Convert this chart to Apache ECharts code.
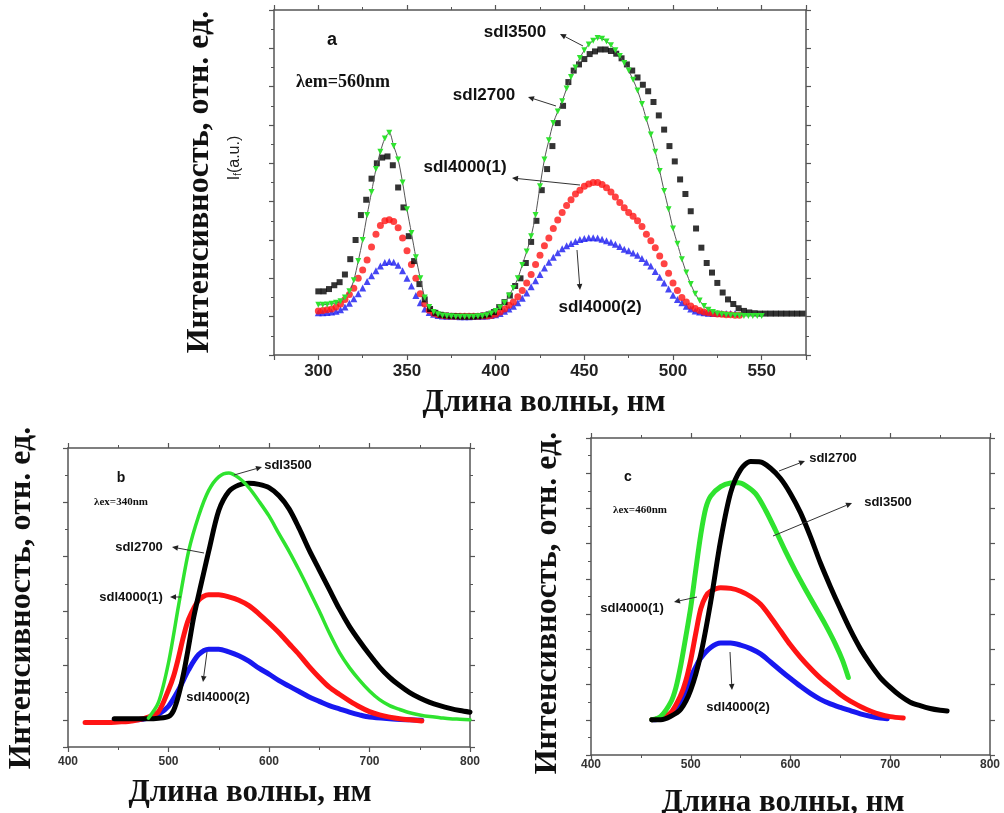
<!DOCTYPE html>
<html><head><meta charset="utf-8">
<script src="https://cdn.jsdelivr.net/npm/echarts@6/dist/echarts.min.js"></script>
<style>html,body{margin:0;padding:0;background:#fff}#c{width:1004px;height:813px}</style>
</head><body><div id="c"></div>
<script>
// ---------- Panel a (excitation, λem = 560 nm) ----------
const A_WL = [300,302.5,305,307.5,310,312.5,315,317.5,320,322.5,325,327.5,330,332.5,335,337.5,340,342.5,345,347.5,350,352.5,355,357.5,360,362.5,365,367.5,370,372.5,375,377.5,380,382.5,385,387.5,390,392.5,395,397.5,400,402.5,405,407.5,410,412.5,415,417.5,420,422.5,425,427.5,430,432.5,435,437.5,440,442.5,445,447.5,450,452.5,455,457.5,460,462.5,465,467.5,470,472.5,475,477.5,480,482.5,485,487.5,490,492.5,495,497.5,500,502.5,505,507.5,510,512.5,515,517.5,520,522.5,525,527.5,530,532.5,535,537.5,540,542.5,545,547.5,550];
const A_GREEN = [0.31,0.31,0.32,0.34,0.36,0.4,0.5,0.66,0.95,1.45,2.0,2.65,3.25,3.85,4.3,4.65,4.8,4.45,4.1,3.5,2.8,2.18,1.55,1.0,0.5,0.25,0.12,0.06,0.03,0.02,0.01,0.0,0.0,0.0,0.0,0.0,0.01,0.02,0.04,0.08,0.15,0.24,0.36,0.55,0.75,1.0,1.35,1.7,2.1,2.65,3.4,4.1,4.6,5.05,5.35,5.62,5.95,6.25,6.5,6.75,6.95,7.1,7.2,7.27,7.25,7.18,7.08,6.95,6.8,6.62,6.42,6.18,5.9,5.55,5.15,4.75,4.3,3.8,3.28,2.8,2.3,1.9,1.5,1.15,0.85,0.6,0.42,0.28,0.18,0.12,0.08,0.06,0.05,0.04,0.03,0.03,0.02,0.02,0.02,0.02,0.02];
const A_RED = [0.15,0.16,0.18,0.2,0.25,0.33,0.45,0.58,0.74,1.0,1.22,1.48,1.82,2.15,2.38,2.5,2.53,2.48,2.32,2.05,1.72,1.36,1.0,0.6,0.33,0.17,0.09,0.05,0.03,0.02,0.01,0.01,0.01,0.01,0.01,0.01,0.01,0.02,0.02,0.03,0.06,0.12,0.2,0.3,0.38,0.52,0.68,0.88,1.1,1.36,1.6,1.85,2.05,2.3,2.52,2.72,2.9,3.05,3.2,3.3,3.4,3.46,3.5,3.5,3.45,3.36,3.25,3.12,2.98,2.84,2.72,2.62,2.5,2.35,2.15,1.98,1.8,1.58,1.38,1.13,0.88,0.68,0.5,0.38,0.28,0.21,0.16,0.12,0.1,0.08,0.07,0.06,0.05,0.05,0.04,0.04];
const A_BLUE = [0.1,0.1,0.11,0.12,0.14,0.18,0.25,0.35,0.47,0.6,0.75,0.92,1.07,1.2,1.32,1.41,1.44,1.42,1.34,1.2,1.0,0.8,0.55,0.36,0.2,0.11,0.06,0.03,0.02,0.01,0.01,0.01,0.0,0.0,0.0,0.01,0.01,0.01,0.02,0.03,0.05,0.08,0.14,0.2,0.27,0.36,0.48,0.62,0.78,0.94,1.1,1.27,1.42,1.55,1.67,1.77,1.85,1.91,1.96,2.01,2.04,2.06,2.06,2.05,2.02,1.98,1.94,1.89,1.83,1.76,1.72,1.66,1.6,1.52,1.42,1.32,1.18,1.03,0.88,0.72,0.56,0.45,0.36,0.27,0.2,0.15,0.12,0.1,0.09,0.08,0.08,0.08,0.08,0.08,0.08];
const A_WL_BLACK = [300,303,306,309,312,315,318,321,324,327,330,333,336,339,342,345,348,351,354,357,360,363,366,369,372,375,378,381,384,387,390,393,396,399,402,405,408,411,414,417,420,423,426,429,432,435,438,441,444,447,450,453,456,459,462,465,468,471,474,477,480,483,486,489,492,495,498,501,504,507,510,513,516,519,522,525,528,531,534,537,540,543,546,549,552,555,558,561,564,567,570,573];
const A_BLACK = [0.66,0.66,0.72,0.82,0.9,1.1,1.5,2.0,2.65,3.05,3.6,4.0,4.15,4.18,3.95,3.37,2.85,2.1,1.45,0.85,0.45,0.2,0.1,0.05,0.03,0.02,0.01,0.0,0.0,0.0,0.01,0.03,0.06,0.12,0.25,0.38,0.55,0.8,1.0,1.4,1.95,2.5,3.3,3.85,4.45,5.05,5.5,6.12,6.42,6.58,6.72,6.85,6.92,6.97,6.97,6.93,6.86,6.74,6.58,6.42,6.24,6.05,5.88,5.6,5.25,4.88,4.45,4.05,3.58,3.2,2.75,2.3,1.8,1.4,1.15,0.88,0.63,0.45,0.33,0.22,0.15,0.11,0.09,0.08,0.08,0.08,0.08,0.08,0.08,0.08,0.08,0.08];

// ---------- Panel b (emission, λex = 340 nm) ----------
const B_GREEN_X = [480,490,500,510,520,530,540,550,560,570,580,590,600,610,620,630,640,650,660,670,680,690,700,710,720,730,740,750,760,770,780,790,800];
const B_GREEN = [0.03,0.32,1.05,2.1,3.1,3.75,4.22,4.47,4.54,4.45,4.27,4.02,3.75,3.42,3.1,2.75,2.38,2.0,1.6,1.24,0.96,0.73,0.53,0.37,0.26,0.19,0.13,0.09,0.06,0.04,0.02,0.01,0.0];
const B_BLACK_X = [446,460,480,490,500,505,510,515,520,525,530,535,540,550,560,570,580,590,600,610,620,630,640,650,660,670,680,690,700,710,720,730,740,750,760,770,780,790,800];
const B_BLACK = [0.02,0.02,0.02,0.03,0.06,0.17,0.45,0.85,1.35,1.88,2.3,2.7,3.1,3.85,4.2,4.32,4.35,4.33,4.27,4.12,3.88,3.52,3.12,2.76,2.4,2.04,1.72,1.45,1.2,0.97,0.78,0.63,0.5,0.4,0.32,0.26,0.21,0.17,0.14];
const B_RED_X = [417,430,440,450,460,470,480,490,500,505,510,515,520,530,540,550,560,570,580,590,600,610,620,630,640,650,660,670,680,690,700,710,720,730,740,752];
const B_RED = [-0.05,-0.05,-0.05,-0.04,-0.03,0.0,0.05,0.15,0.55,0.8,1.15,1.54,1.85,2.2,2.3,2.3,2.26,2.2,2.1,1.95,1.78,1.6,1.4,1.2,0.98,0.78,0.6,0.47,0.35,0.24,0.15,0.09,0.05,0.02,0.0,-0.02];
const B_BLUE_X = [446,460,470,480,490,500,510,520,530,540,550,560,570,580,590,600,610,620,630,640,650,660,670,680,690,700,720,740,752];
const B_BLUE = [0.0,0.0,0.0,0.03,0.1,0.25,0.55,0.92,1.2,1.3,1.3,1.25,1.18,1.08,0.95,0.84,0.72,0.62,0.52,0.42,0.34,0.26,0.2,0.14,0.09,0.05,0.02,0.0,-0.01];

// ---------- Panel c (emission, λex = 460 nm) ----------
const C_BLACK_X = [461,470,480,490,500,510,520,530,540,550,560,570,580,590,600,610,620,630,640,650,660,670,680,690,700,710,720,730,740,750,757];
const C_BLACK = [0.0,0.0,0.1,0.3,0.85,1.85,3.35,5.1,6.45,7.1,7.33,7.32,7.14,6.85,6.42,5.88,5.2,4.45,3.78,3.15,2.55,2.02,1.58,1.2,0.92,0.68,0.5,0.4,0.32,0.27,0.25];
const C_GREEN_X = [461,470,480,485,490,495,500,505,510,515,520,530,540,548,555,565,575,585,595,605,615,625,635,645,652,658];
const C_GREEN = [0.0,0.1,0.5,0.9,1.55,2.35,3.2,4.25,5.25,6.0,6.35,6.62,6.72,6.73,6.65,6.42,5.95,5.38,4.78,4.22,3.7,3.2,2.7,2.15,1.7,1.2];
const C_RED_X = [461,470,480,490,495,500,505,510,515,520,530,540,550,560,570,580,590,600,610,620,630,640,650,660,670,680,690,700,713];
const C_RED = [0.0,0.05,0.2,0.7,1.1,1.7,2.45,3.15,3.5,3.65,3.75,3.73,3.65,3.5,3.28,2.92,2.52,2.12,1.77,1.46,1.18,0.95,0.72,0.53,0.38,0.25,0.15,0.09,0.05];
const C_BLUE_X = [461,470,480,490,495,500,505,510,520,530,540,550,560,570,580,590,600,610,620,630,640,650,660,670,680,690,697];
const C_BLUE = [0.0,0.03,0.15,0.5,0.8,1.2,1.5,1.75,2.05,2.18,2.18,2.12,2.02,1.87,1.64,1.4,1.17,0.95,0.75,0.58,0.45,0.35,0.26,0.17,0.1,0.05,0.03];

// ---------- texts ----------
const Y_TITLE = 'Интенсивность, отн. ед.';
const X_TITLE = 'Длина волны, нм';
const NAMES = ['sdl3500','sdl2700','sdl4000(1)','sdl4000(2)'];

const SANS = '"Liberation Sans", Arial, sans-serif';
const SERIF = '"Liberation Serif", "Times New Roman", serif';
const GREEN = '#2fe32f', RED = '#ff1414', BLUE = '#1818f0', BLACK = '#000000';

function pts(xs, ys){ return ys.map((y,i)=>[xs[i], y]); }

function xAx(grid, min, max, pos, showLabel, extra){
  const o = {
    gridIndex: grid, type:'value', min:min, max:max, position:pos,
    axisLine:{show:true, onZero:false, lineStyle:{color:'#555', width:1.5}},
    axisTick:{show:true, inside:false, length:5, lineStyle:{color:'#555', width:1.2}},
    minorTick:{show:true, splitNumber:2, length:3, lineStyle:{color:'#555', width:1}},
    splitLine:{show:false}, minorSplitLine:{show:false},
    axisLabel:{show:showLabel}
  };
  return Object.assign(o, extra||{});
}
function yAx(grid, min, max, pos, extra){
  const o = {
    gridIndex: grid, type:'value', min:min, max:max, position:pos,
    axisLine:{show:true, onZero:false, lineStyle:{color:'#555', width:1.5}},
    axisTick:{show:true, inside:false, length:5, lineStyle:{color:'#555', width:1.2}},
    minorTick:{show:true, splitNumber:2, length:3, lineStyle:{color:'#555', width:1}},
    splitLine:{show:false}, minorSplitLine:{show:false},
    axisLabel:{show:false}
  };
  return Object.assign(o, extra||{});
}

const labA = {show:true, formatter:v=> (v%50===0 ? String(v) : ''), color:'#222', fontFamily:SANS, fontWeight:'bold', fontSize:17, margin:8};
const labBC = (m)=>({show:true, formatter:v=> (v%100===0 ? String(v) : ''), color:'#333', fontFamily:SANS, fontWeight:'bold', fontSize:12, margin:m});

const xAxis = [
  xAx(0, 275, 575, 'bottom', true, {splitNumber:6, axisLabel:labA}),
  xAx(0, 275, 575, 'top', false, {splitNumber:6}),
  xAx(1, 400, 800, 'bottom', true, {interval:100, axisLabel:labBC(9)}),
  xAx(1, 400, 800, 'top', false, {interval:100}),
  xAx(2, 400, 800, 'bottom', true, {interval:100, axisLabel:labBC(4)}),
  xAx(2, 400, 800, 'top', false, {interval:100})
];
const yAxis = [
  yAx(0, -1, 8, 'left', {interval:1}),
  yAx(0, -1, 8, 'right', {interval:1}),
  yAx(1, -0.5, 5, 'left', {splitNumber:5}),
  yAx(1, -0.5, 5, 'right', {splitNumber:5}),
  yAx(2, -1, 8, 'left', {interval:1}),
  yAx(2, -1, 8, 'right', {interval:1, minorTick:{show:false}})
];

function thick(name, xi, yi, data, color, w){
  return {name, type:'line', xAxisIndex:xi, yAxisIndex:yi, data, smooth:0.3,
    showSymbol:false, symbol:'none', lineStyle:{color, width:w, cap:'round', join:'round'}, itemStyle:{color}};
}

const series = [
  {name:NAMES[3], type:'scatter', xAxisIndex:0, yAxisIndex:0, data:pts(A_WL, A_BLUE), symbol:'triangle', symbolSize:7, itemStyle:{color:BLUE}, z:2},
  {name:NAMES[2], type:'scatter', xAxisIndex:0, yAxisIndex:0, data:pts(A_WL, A_RED), symbol:'circle', symbolSize:7, itemStyle:{color:RED}, z:3},
  {name:NAMES[1], type:'scatter', xAxisIndex:0, yAxisIndex:0, data:pts(A_WL_BLACK, A_BLACK), symbol:'rect', symbolSize:6, itemStyle:{color:BLACK}, z:4},
  {name:NAMES[0], type:'line', xAxisIndex:0, yAxisIndex:0, data:pts(A_WL, A_GREEN), smooth:0.3,
    showSymbol:true, showAllSymbol:true, symbol:'triangle', symbolRotate:180, symbolSize:6,
    itemStyle:{color:GREEN}, lineStyle:{color:'#555', width:1}, z:5},

  thick(NAMES[3], 2, 2, pts(B_BLUE_X, B_BLUE), BLUE, 5),
  thick(NAMES[2], 2, 2, pts(B_RED_X, B_RED), RED, 5),
  thick(NAMES[1], 2, 2, pts(B_BLACK_X, B_BLACK), BLACK, 5),
  thick(NAMES[0], 2, 2, pts(B_GREEN_X, B_GREEN), GREEN, 3.5),

  thick(NAMES[3], 4, 4, pts(C_BLUE_X, C_BLUE), BLUE, 5),
  thick(NAMES[2], 4, 4, pts(C_RED_X, C_RED), RED, 5),
  thick(NAMES[0], 4, 4, pts(C_GREEN_X, C_GREEN), GREEN, 5),
  thick(NAMES[1], 4, 4, pts(C_BLACK_X, C_BLACK), BLACK, 5)
];

// ---------- annotations ----------
function txt(t, x, y, size, family, weight, rot){
  return {type:'text', x, y, rotation: rot||0, z:100,
    style:{text:t, fontSize:size, fontFamily:family, fontWeight:weight||'bold', fill:'#111', align:'center', verticalAlign:'middle'}};
}
function arrow(x1,y1,x2,y2){ // head at (x1,y1)
  const ang = Math.atan2(y1-y2, x1-x2), L=6, W=2.8;
  const bx = x1 - L*Math.cos(ang), by = y1 - L*Math.sin(ang);
  return [
    {type:'line', z:100, shape:{x1:x2,y1:y2,x2:bx,y2:by}, style:{stroke:'#333', lineWidth:1}},
    {type:'polygon', z:100, shape:{points:[[x1,y1],[bx+W*Math.sin(ang), by-W*Math.cos(ang)],[bx-W*Math.sin(ang), by+W*Math.cos(ang)]]}, style:{fill:'#222'}}
  ];
}
const R = Math.PI/2;
const graphic = [
  // panel a
  txt(Y_TITLE, 200, 182, 32, SERIF, 'bold', R),
  {type:'text', x:235, y:158, rotation:R, z:100, style:{text:'{a|I}{s|f}{a|(a.u.)}', align:'center', verticalAlign:'middle',
    rich:{a:{fontSize:16, fontFamily:SANS, fill:'#222'}, s:{fontSize:10, fontFamily:SANS, fill:'#222', verticalAlign:'bottom'}}}},
  txt(X_TITLE, 544, 403, 31, SERIF, 'bold'),
  txt('a', 332, 40, 18, SANS, 'bold'),
  txt('λem=560nm', 343, 82, 18, SERIF, 'bold'),
  txt(NAMES[0], 515, 32, 17, SANS, 'bold'),
  txt(NAMES[1], 484, 95, 17, SANS, 'bold'),
  txt(NAMES[2], 465, 167, 17, SANS, 'bold'),
  txt(NAMES[3], 600, 307, 17, SANS, 'bold'),
  ...arrow(560,34,583,46), ...arrow(528,97,556,106), ...arrow(512,178,580,185), ...arrow(580,290,577,250),
  // panel b
  txt(Y_TITLE, 22, 598, 32, SERIF, 'bold', R),
  txt(X_TITLE, 250, 793, 31, SERIF, 'bold'),
  txt('b', 121, 478, 14, SANS, 'bold'),
  txt('λex=340nm', 121, 502, 11, SERIF, 'bold'),
  txt(NAMES[0], 288, 465, 13, SANS, 'bold'),
  txt(NAMES[1], 139, 547, 13, SANS, 'bold'),
  txt(NAMES[2], 131, 597, 13, SANS, 'bold'),
  txt(NAMES[3], 218, 697, 13, SANS, 'bold'),
  ...arrow(262,467,234,475), ...arrow(172,547,204,553), ...arrow(170,597,181,597), ...arrow(203,682,207,652),
  // panel c
  txt(Y_TITLE, 548, 603, 32, SERIF, 'bold', R),
  txt(X_TITLE, 783, 803, 31, SERIF, 'bold'),
  txt('c', 628, 477, 14, SANS, 'bold'),
  txt('λex=460nm', 640, 510, 11, SERIF, 'bold'),
  txt(NAMES[1], 833, 458, 13, SANS, 'bold'),
  txt(NAMES[0], 888, 502, 13, SANS, 'bold'),
  txt(NAMES[2], 632, 608, 13, SANS, 'bold'),
  txt(NAMES[3], 738, 707, 13, SANS, 'bold'),
  ...arrow(805,461,779,471), ...arrow(852,503,773,536), ...arrow(674,602,697,597), ...arrow(732,690,730,652)
];

const chart = echarts.init(document.getElementById('c'), null, {renderer:'canvas'});
chart.setOption({
  backgroundColor:'#ffffff',
  animation:false,
  grid:[
    {left:274, top:10, width:532, height:345, containLabel:false, outerBoundsMode:'none'},
    {left:68, top:448, width:402, height:299, containLabel:false, outerBoundsMode:'none'},
    {left:591, top:438, width:399, height:317, containLabel:false, outerBoundsMode:'none'}
  ],
  xAxis, yAxis, series, graphic
});
</script></body></html>
